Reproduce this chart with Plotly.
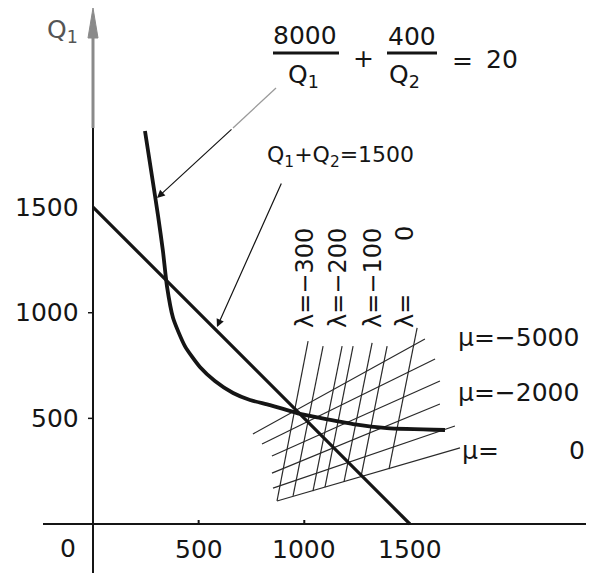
import plotly.graph_objects as go

# ---------------- data ----------------
# constraint curve 8000/Q1 + 400/Q2 = 20 (hand drawn), x = Q2, y = Q1
CURVE_Q2 = [246, 279, 308, 331, 350, 379, 435, 506, 577, 663, 743, 838, 980, 1074, 1231, 1391, 1666]
CURVE_Q1 = [1860, 1647, 1458, 1292, 1126, 975, 842, 743, 677, 620, 587, 563, 521, 502, 473, 454, 445]

# budget line Q1 + Q2 = 1500
LINE_Q2 = [0, 1500]
LINE_Q1 = [1500, 0]

# lambda iso-lines (steep family)
LAMBDA_VALUES = [-300, -250, -200, -150, -100, -50, 0]
LAMBDA_TOP_Q2 = [1018, 1089, 1179, 1231, 1321, 1392, 1534]
LAMBDA_TOP_Q1 = [866, 842, 842, 842, 857, 842, 928]
LAMBDA_BOT_Q2 = [871, 947, 1041, 1098, 1188, 1268, 1401]
LAMBDA_BOT_Q1 = [109, 133, 156, 175, 199, 222, 260]
LAMBDA_LABELED = [-300, -200, -100, 0]

# mu iso-lines (shallow family)
MU_VALUES = [-5000, -4000, -3000, -2000, -1000, 0]
MU_LEFT_Q2 = [757, 800, 847, 847, 852, 871]
MU_LEFT_Q1 = [426, 379, 322, 241, 170, 109]
MU_RIGHT_Q2 = [1571, 1619, 1642, 1642, 1713, 1737]
MU_RIGHT_Q1 = [876, 781, 677, 568, 464, 360]
MU_LABELED = [-5000, -2000, 0]

X_TICKS = [500, 1000, 1500]
Y_TICKS = [500, 1000, 1500]

# ---------------- layout helpers ----------------
OFF = 8                      # page body margin
W, H = 594 - OFF, 587 - OFF  # figure size
S = 4.733                    # data units per pixel
X0, Y0 = 93, 524             # origin in window pixels

def d(x, y):
    """window pixel -> data"""
    return (x - X0) * S, (Y0 - y) * S

def p(x, y):
    """window pixel -> paper"""
    return (x - OFF) / W, 1 - (y - OFF) / H

FONT = "DejaVu Sans"
INK = "#151515"
GREY = "#8a8a8a"

fig = go.Figure()

# mesh: lambda lines
lx, ly = [], []
for i in range(len(LAMBDA_VALUES)):
    lx += [LAMBDA_BOT_Q2[i], LAMBDA_TOP_Q2[i], None]
    ly += [LAMBDA_BOT_Q1[i], LAMBDA_TOP_Q1[i], None]
fig.add_trace(go.Scatter(x=lx, y=ly, mode="lines", line=dict(color="#2a2a2a", width=1.2),
                         hoverinfo="skip", showlegend=False))
# mesh: mu lines
mx, my = [], []
for i in range(len(MU_VALUES)):
    mx += [MU_LEFT_Q2[i], MU_RIGHT_Q2[i], None]
    my += [MU_LEFT_Q1[i], MU_RIGHT_Q1[i], None]
fig.add_trace(go.Scatter(x=mx, y=my, mode="lines", line=dict(color="#2a2a2a", width=1.2),
                         hoverinfo="skip", showlegend=False))

# budget line
fig.add_trace(go.Scatter(x=LINE_Q2, y=LINE_Q1, mode="lines", line=dict(color=INK, width=3.2),
                         showlegend=False))
# constraint curve
fig.add_trace(go.Scatter(x=CURVE_Q2, y=CURVE_Q1, mode="lines",
                         line=dict(color=INK, width=3.8, shape="spline", smoothing=0.6),
                         showlegend=False))

shapes = []
# x axis
shapes.append(dict(type="line", xref="paper", yref="y", x0=p(43, 0)[0], x1=1, y0=0, y1=0,
                   line=dict(color=INK, width=2)))
# y axis (black lower part, grey upper part)
shapes.append(dict(type="line", xref="x", yref="paper", x0=0, x1=0,
                   y0=p(0, 573)[1], y1=p(0, 128)[1], line=dict(color=INK, width=2)))
shapes.append(dict(type="line", xref="x", yref="paper", x0=0, x1=0,
                   y0=p(0, 128)[1], y1=p(0, 30)[1], line=dict(color=GREY, width=3)))
# y-axis arrow head
tx, ty = p(X0, 8)
bl = p(X0 - 5, 38)
br = p(X0 + 5, 38)
shapes.append(dict(type="path", xref="paper", yref="paper",
                   path=f"M {tx},{ty} L {bl[0]},{bl[1]} L {br[0]},{br[1]} Z",
                   fillcolor=GREY, line=dict(color=GREY, width=1)))
# tick marks
for v in X_TICKS[:2]:
    shapes.append(dict(type="line", xref="x", yref="paper", x0=v, x1=v,
                       y0=p(0, 524)[1], y1=p(0, 520)[1], line=dict(color=INK, width=2)))
for v in Y_TICKS[:2]:
    shapes.append(dict(type="line", xref="paper", yref="y", x0=p(88, 0)[0], x1=p(X0, 0)[0],
                       y0=v, y1=v, line=dict(color=INK, width=1.5)))
# fraction bars
for (a, b) in [(273, 339), (387, 437)]:
    shapes.append(dict(type="line", xref="paper", yref="paper", x0=p(a, 53)[0], x1=p(b, 53)[0],
                       y0=p(a, 53)[1], y1=p(b, 53)[1], line=dict(color=INK, width=3)))
# grey upper part of the leader arrow
g0 = p(276, 88)
g1 = p(233, 128)
shapes.append(dict(type="line", xref="paper", yref="paper", x0=g0[0], y0=g0[1], x1=g1[0], y1=g1[1],
                   line=dict(color="#9a9a9a", width=1.3)))

ann = []
def text(xp, yp, t, size=25, color=INK, xanchor="center", angle=0):
    x, y = d(xp, yp)
    ann.append(dict(x=x, y=y, xref="x", yref="y", text=t, showarrow=False, textangle=angle,
                    xanchor=xanchor, yanchor="middle", font=dict(family=FONT, size=size, color=color)))

# tick labels
for v in Y_TICKS:
    ann.append(dict(x=0, y=v, xref="x", yref="y", text=str(v), showarrow=False, xanchor="right",
                    yanchor="middle", xshift=-12, font=dict(family=FONT, size=25, color=INK)))
for v in X_TICKS:
    ann.append(dict(x=v, y=0, xref="x", yref="y", text=str(v), showarrow=False, xanchor="center",
                    yanchor="middle", yshift=-25, font=dict(family=FONT, size=25, color=INK)))
text(68, 548, "0")
text(62, 31, "Q<sub>1</sub>", size=25, color="#555555")

# equation
text(305, 35, "8000")
text(303, 76, "Q<sub>1</sub>")
text(363, 58, "+")
text(412, 36, "400")
text(404, 76, "Q<sub>2</sub>")
text(462, 60, "=")
text(502, 59, "20")
text(340, 156, "Q<sub>1</sub>+Q<sub>2</sub>=1500", size=22)

# lambda labels
lam_pos = {-300: 305, -200: 338, -100: 373}
for v in LAMBDA_LABELED:
    if v in lam_pos:
        text(lam_pos[v], 278, f"λ=−{abs(v)}", size=24, angle=-90)
text(405, 311, "λ=", size=24, angle=-90)
text(405, 234, "0", size=24, angle=-90)

# mu labels
mu_y = {-5000: 337, -2000: 392}
for v in MU_LABELED:
    if v in mu_y:
        text(456, mu_y[v], f"μ=−{abs(v)}", size=25, xanchor="left")
text(460, 450, "μ=", size=25, xanchor="left")
text(577, 450, "0", size=25)

# leader arrows
hx, hy = d(157, 198)
ann.append(dict(x=hx, y=hy, xref="x", yref="y", ax=233 - 157, ay=128 - 198, showarrow=True,
                arrowhead=2, arrowsize=1.3, arrowwidth=1.2, arrowcolor=INK, text=""))
hx, hy = d(217, 327)
ann.append(dict(x=hx, y=hy, xref="x", yref="y", ax=282 - 217, ay=182 - 327, showarrow=True,
                arrowhead=2, arrowsize=1.3, arrowwidth=1.2, arrowcolor=INK, text=""))

fig.update_layout(
    width=W, height=H, margin=dict(l=0, r=0, t=0, b=0),
    paper_bgcolor="white", plot_bgcolor="white",
    xaxis=dict(range=[-(X0 - OFF) * S, (W - (X0 - OFF)) * S], visible=False, fixedrange=True),
    yaxis=dict(range=[-(H - (Y0 - OFF)) * S, (Y0 - OFF) * S], visible=False, fixedrange=True),
    shapes=shapes, annotations=ann, showlegend=False,
)

fig.write_html("out.html")
